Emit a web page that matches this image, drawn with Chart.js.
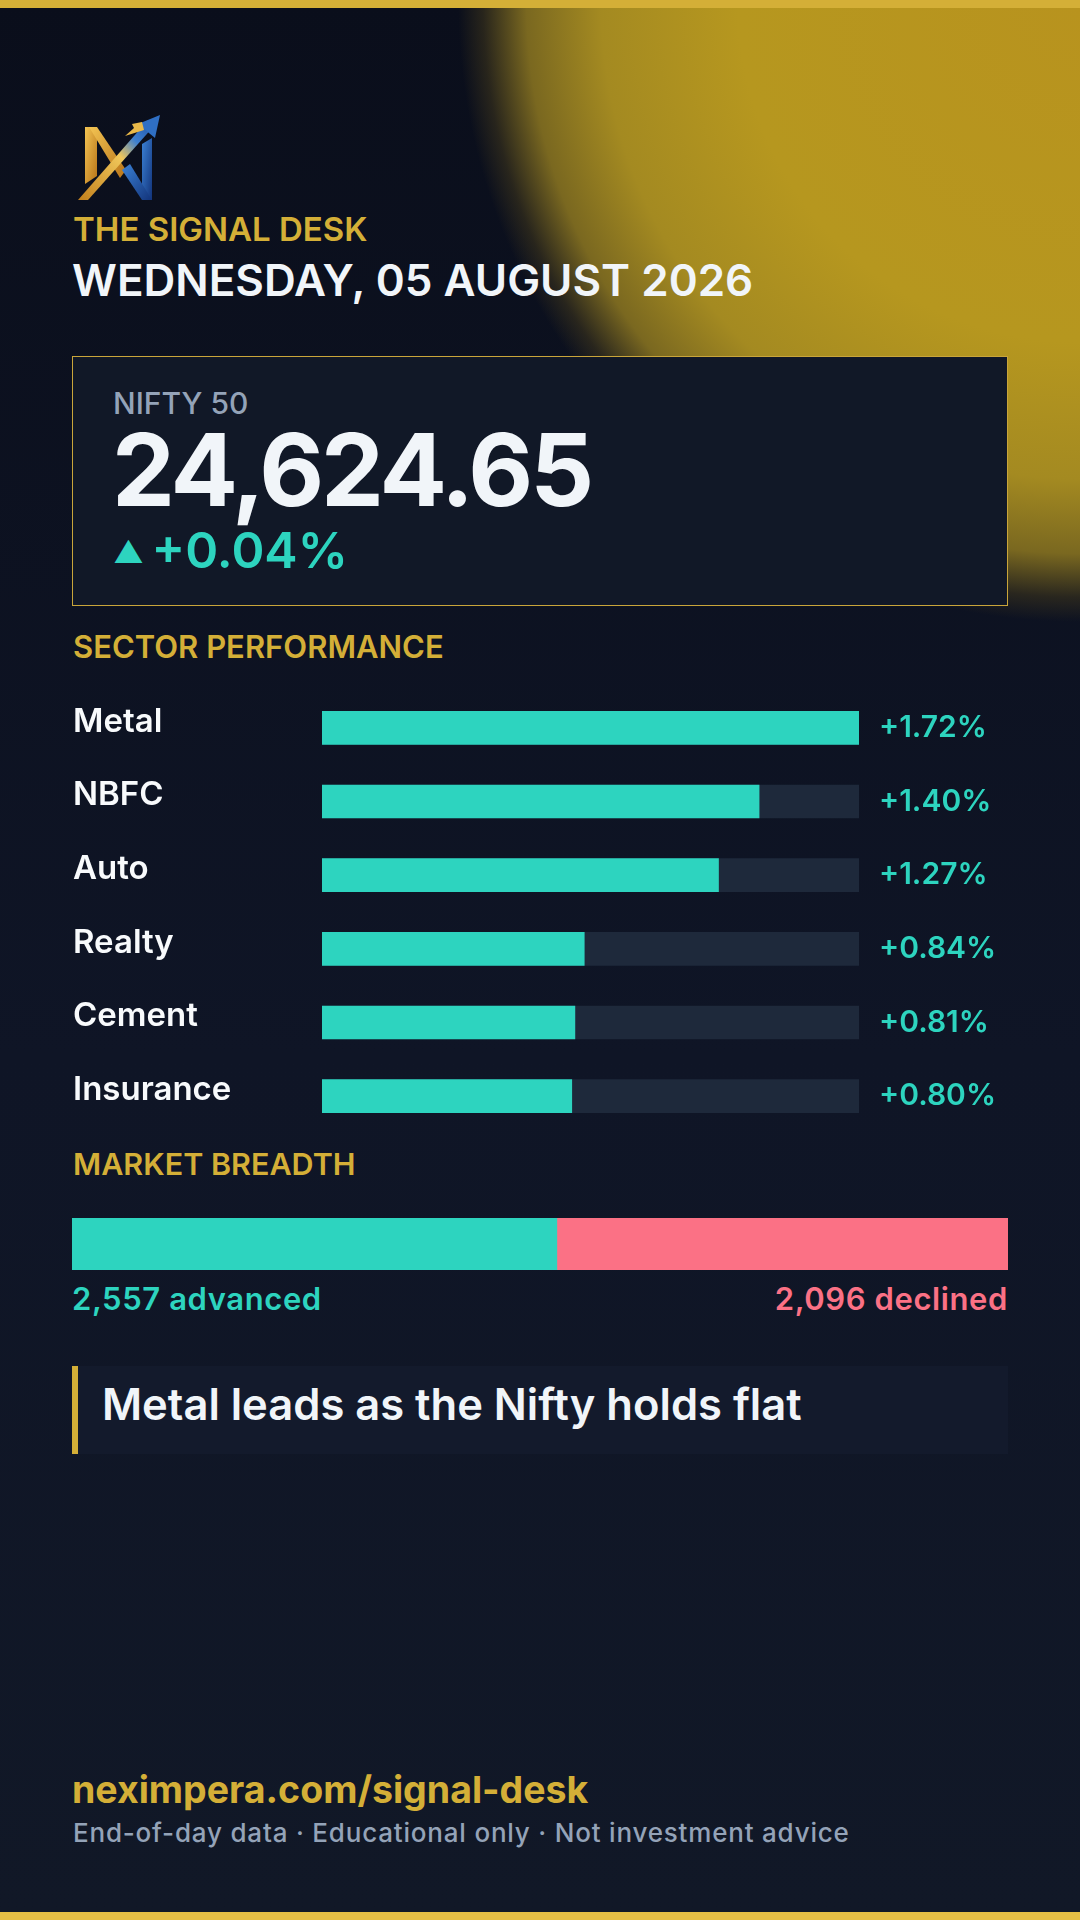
<!DOCTYPE html>
<html>
<head>
<meta charset="utf-8">
<script src="https://cdn.jsdelivr.net/npm/chart.js@4.4.1/dist/chart.umd.min.js"></script>
<style>
  html, body { margin: 0; padding: 0; }
  body {
    width: 1080px; height: 1920px; position: relative; overflow: hidden;
    font-family: "Inter", "Noto Sans", sans-serif;
    background: linear-gradient(180deg, #0a0e1b 0%, #0f1526 55%, #111827 100%);
  }
  .glow {
    position: absolute; left: 0; top: 0; width: 1080px; height: 1920px;
    background: radial-gradient(circle 622px at 100% 0%,
      #b8931e 0%, #b6971f 55%, #a48a21 77%, #7a6820 89%, rgba(60,52,28,0.6) 96%, rgba(11,15,28,0) 100%);
  }
  .bar-top, .bar-bottom { position: absolute; left: 0; width: 1080px; height: 8px; background: #d4af37; }
  .bar-top { top: 0; }
  .bar-bottom { bottom: 0; background: #e6bf45; }
  .t { position: absolute; line-height: 1; white-space: nowrap; margin: 0; }
  .gold { color: #d4af37; }
  .card {
    position: absolute; left: 72px; top: 356px; width: 934px; height: 248px;
    background: #111827; border: 1px solid #c9a53a;
  }
  .quote {
    position: absolute; left: 72px; top: 1366px; width: 936px; height: 88px;
    background: #131a2c; border-left: 6px solid #d4af37; box-sizing: border-box;
  }
  canvas { position: absolute; }
</style>
</head>
<body>
<div class="glow"></div>
<div class="bar-top"></div>
<div class="bar-bottom"></div>

<!-- logo mark -->
<svg style="position:absolute;left:60px;top:100px" width="140" height="120" viewBox="0 0 140 120">
  <defs>
    <linearGradient id="gGold" x1="0" y1="0" x2="1" y2="1">
      <stop offset="0" stop-color="#f3c453"/>
      <stop offset="1" stop-color="#b87418"/>
    </linearGradient>
    <linearGradient id="gBlue" x1="0" y1="0" x2="1" y2="1">
      <stop offset="0" stop-color="#3b82d6"/>
      <stop offset="1" stop-color="#12337a"/>
    </linearGradient>
    <linearGradient id="gArrow" x1="0" y1="1" x2="1" y2="0">
      <stop offset="0" stop-color="#c27f1c"/>
      <stop offset="0.55" stop-color="#f0c75a"/>
      <stop offset="0.75" stop-color="#3c7fd0"/>
      <stop offset="1" stop-color="#1e4fa3"/>
    </linearGradient>
  </defs>
  <polygon points="25,27 33,27 37,34 37,76 25,84" fill="url(#gGold)"/>
  <polygon points="29,27 37,27 66,70 60,78" fill="url(#gGold)"/>
  <polygon points="82,44 92,38 92,100 82,100" fill="url(#gBlue)"/>
  <polygon points="62,70 70,64 92,100 82,100" fill="url(#gBlue)"/>
  <polygon points="18,100 28,100 94,26 88,20" fill="url(#gArrow)"/>
  <polygon points="100,15 78,24 95,38" fill="#2f6fc4"/>
  <polygon points="65,36 74,28 72,24 82,22 84,30" fill="#e9b949"/>
</svg>

<div class="t gold" style="left:73px;top:213px;font-size:33px;font-weight:600">THE SIGNAL DESK</div>
<div class="t" style="left:72px;top:258px;font-size:44px;font-weight:600;color:#f1f5f9">WEDNESDAY, 05 AUGUST 2026</div>

<div class="card"></div>
<div class="t" style="left:113px;top:388px;font-size:30px;font-weight:500;color:#94a3b8">NIFTY 50</div>
<div class="t" style="left:112px;top:420px;font-size:100px;font-weight:700;color:#f1f5f9;letter-spacing:-3px">24,624.65</div>
<div class="t" style="left:113px;top:525px;font-size:50px;font-weight:600;color:#2dd4bf"><span style="font-size:30px;vertical-align:5px">▲ </span>+0.04%</div>

<div class="t gold" style="left:73px;top:631px;font-size:31px;font-weight:600">SECTOR PERFORMANCE</div>
<canvas id="sectorChart" width="935" height="442" style="left:73px;top:691px"></canvas>

<div class="t gold" style="left:73px;top:1149px;font-size:30.5px;font-weight:600">MARKET BREADTH</div>
<canvas id="breadthChart" width="936" height="52" style="left:72px;top:1218px"></canvas>
<div id="advLabel" class="t" style="left:72px;top:1283px;font-size:31px;font-weight:600;color:#2dd4bf;letter-spacing:0.6px"></div>
<div id="decLabel" class="t" style="right:72px;top:1283px;font-size:31px;font-weight:600;color:#fb7185;letter-spacing:0.6px"></div>

<div class="quote"></div>
<div class="t" style="left:102px;top:1383px;font-size:43.5px;font-weight:600;color:#f1f5f9">Metal leads as the Nifty holds flat</div>

<div class="t gold" style="left:72px;top:1771px;font-size:37.5px;font-weight:700">neximpera.com/signal-desk</div>
<div class="t" style="left:73px;top:1820px;font-size:26px;font-weight:500;color:#94a3b8;letter-spacing:0.8px">End-of-day data · Educational only · Not investment advice</div>

<script>
// ---------- data ---------- //
const sectors = ["Metal", "NBFC", "Auto", "Realty", "Cement", "Insurance"];
const sectorChange = [1.72, 1.40, 1.27, 0.84, 0.81, 0.80]; // % change
const breadthCounts = [2557, 2096];    // advanced, declined
const breadthShare = [51.8, 48.2];     // bar split (%)

const teal = "#2dd4bf";
const red = "#fb7185";
const track = "#1e293b";

Chart.defaults.font.family = "Inter";

// value labels to the right of each bar
const valueLabels = {
  id: "valueLabels",
  afterDatasetsDraw(chart) {
    const ctx = chart.ctx;
    const meta = chart.getDatasetMeta(0);
    ctx.save();
    ctx.fillStyle = teal;
    ctx.font = "600 30px Inter";
    ctx.textBaseline = "middle";
    meta.data.forEach((bar, i) => {
      ctx.fillText("+" + sectorChange[i].toFixed(2) + "%", chart.chartArea.right + 20, bar.y);
    });
    ctx.restore();
  },
};

// ---------- Sector Performance ---------- //
const maxChange = Math.max(...sectorChange);
new Chart(document.getElementById("sectorChart"), {
  type: "bar",
  data: {
    labels: sectors,
    datasets: [
      {
        label: "Change",
        data: sectorChange,
        backgroundColor: teal,
        barThickness: 33,
        grouped: false,
      },
      {
        label: "Track",
        data: sectors.map(() => maxChange),
        backgroundColor: track,
        barThickness: 33,
        grouped: false,
      },
    ],
  },
  options: {
    indexAxis: "y",
    responsive: false,
    animation: false,
    layout: { padding: { left: 0, right: 149, top: 0, bottom: 0 } },
    plugins: { legend: { display: false }, tooltip: { enabled: false } },
    scales: {
      x: { display: false, min: 0, max: maxChange },
      y: {
        grid: { display: false },
        border: { display: false },
        ticks: {
          color: "#f8fafc",
          crossAlign: "far",
          padding: 0,
          labelOffset: -6,
          font: { size: 33, weight: "600" },
        },
        afterFit(scale) {
          scale.width = 249;
          scale.paddingTop = 0;   // let rows use the full height
          scale.paddingBottom = 0;
        },
      },
    },
  },
  plugins: [valueLabels],
});

// ---------- Market Breadth ---------- //
new Chart(document.getElementById("breadthChart"), {
  type: "bar",
  data: {
    labels: ["Breadth"],
    datasets: [
      { label: "Advanced", data: [breadthShare[0]], backgroundColor: teal, barPercentage: 1, categoryPercentage: 1 },
      { label: "Declined", data: [breadthShare[1]], backgroundColor: red, barPercentage: 1, categoryPercentage: 1 },
    ],
  },
  options: {
    indexAxis: "y",
    responsive: false,
    animation: false,
    layout: { padding: 0 },
    plugins: { legend: { display: false }, tooltip: { enabled: false } },
    scales: {
      x: { display: false, stacked: true, min: 0, max: 100 },
      y: { display: false, stacked: true },
    },
  },
});

document.getElementById("advLabel").textContent = breadthCounts[0].toLocaleString("en-US") + " advanced";
document.getElementById("decLabel").textContent = breadthCounts[1].toLocaleString("en-US") + " declined";
</script>
</body>
</html>
